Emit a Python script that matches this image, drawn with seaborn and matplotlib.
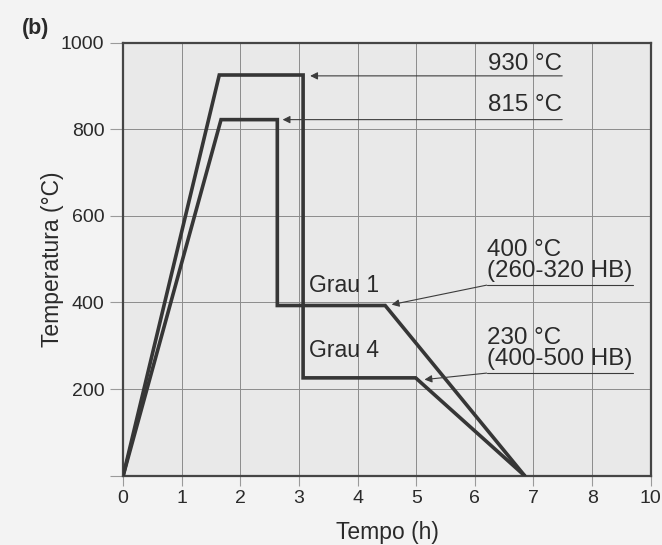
import matplotlib
matplotlib.use("Agg")
import matplotlib.pyplot as plt
import seaborn as sns
import pandas as pd

# ---- data ----
grau1_time = [0, 1.67, 2.63, 2.63, 4.47, 6.85]
grau1_temp = [0, 822, 822, 393, 393, 0]
grau4_time = [0, 1.64, 3.07, 3.07, 4.99, 6.85]
grau4_temp = [0, 925, 925, 226, 226, 0]

x_ticks = [0, 1, 2, 3, 4, 5, 6, 7, 8, 9]
x_tick_labels = ["0", "1", "2", "3", "4", "5", "6", "7", "8", "10"]
y_ticks = [0, 200, 400, 600, 800, 1000]
y_tick_labels = ["", "200", "400", "600", "800", "1000"]

df = pd.DataFrame({
    "time": grau1_time + grau4_time,
    "temp": grau1_temp + grau4_temp,
    "grau": ["Grau 1"] * len(grau1_time) + ["Grau 4"] * len(grau4_time),
})

sns.set_style("ticks")
plt.rcParams["font.family"] = ["Liberation Sans", "DejaVu Sans"]

line_c = "#363636"
grid_c = "#8c8c8c"
txt_c = "#2a2a2a"

fig = plt.figure(figsize=(6.62, 5.45), dpi=100, facecolor="#f3f3f3")
ax = fig.add_axes([0.186, 0.127, 0.797, 0.795])
ax.set_facecolor("#e9e9e9")

sns.lineplot(data=df, x="time", y="temp", hue="grau", units="grau",
             estimator=None, sort=False, palette=[line_c, line_c],
             linewidth=2.6, legend=False, ax=ax, zorder=3,
             solid_joinstyle="miter")

ax.set_xlim(0, 9)
ax.set_ylim(0, 1000)
ax.set_xticks(x_ticks)
ax.set_xticklabels(x_tick_labels)
ax.set_yticks(y_ticks)
ax.set_yticklabels(y_tick_labels)
ax.grid(True, color=grid_c, linewidth=0.7, zorder=1)
ax.set_axisbelow(True)
for s in ax.spines.values():
    s.set_color("#454545")
    s.set_linewidth(1.6)
ax.tick_params(axis="y", length=9.5, width=0.8, color="#9a9a9a", pad=4,
               labelsize=14, labelcolor=txt_c)
ax.tick_params(axis="x", length=7.5, width=0.8, color="#9a9a9a", pad=3,
               labelsize=14, labelcolor=txt_c)
ax.set_xlabel("Tempo (h)", fontsize=16.5, color=txt_c, labelpad=10)
ax.set_ylabel("Temperatura (°C)", fontsize=16.5, color=txt_c, labelpad=-2)

fig.text(0.033, 0.948, "(b)", fontsize=15.5, fontweight="bold", color=txt_c,
         va="center", ha="left")

fs = 17.4
arrow_kw = dict(arrowstyle="-|>", color="#3c3c3c", lw=0.8,
                mutation_scale=11, shrinkA=0, shrinkB=0)

# 930 and 815 labels
ax.annotate("", xy=(3.19, 923), xytext=(7.49, 923), arrowprops=arrow_kw, zorder=4)
ax.text(7.49, 937, "930 °C", fontsize=fs, ha="right", va="baseline", color=txt_c)
ax.annotate("", xy=(2.72, 822), xytext=(7.49, 822), arrowprops=arrow_kw, zorder=4)
ax.text(7.49, 841, "815 °C", fontsize=fs, ha="right", va="baseline", color=txt_c)

# 400 label
ax.plot([6.2, 8.69], [440, 440], color="#3c3c3c", lw=0.8, zorder=4)
ax.annotate("", xy=(4.58, 395), xytext=(6.2, 440), arrowprops=arrow_kw, zorder=4)
ax.text(6.2, 447, "400 °C\n(260-320 HB)", fontsize=fs, ha="left", va="bottom",
        color=txt_c, linespacing=0.92)

# 230 label
ax.plot([6.2, 8.69], [237, 237], color="#3c3c3c", lw=0.8, zorder=4)
ax.annotate("", xy=(5.14, 222), xytext=(6.2, 237), arrowprops=arrow_kw, zorder=4)
ax.text(6.2, 244, "230 °C\n(400-500 HB)", fontsize=fs, ha="left", va="bottom",
        color=txt_c, linespacing=0.92)

ax.text(3.17, 440, "Grau 1", fontsize=16.5, ha="left", va="center", color=txt_c)
ax.text(3.17, 290, "Grau 4", fontsize=16.5, ha="left", va="center", color=txt_c)

fig.savefig("out.png", dpi=100, facecolor=fig.get_facecolor())
